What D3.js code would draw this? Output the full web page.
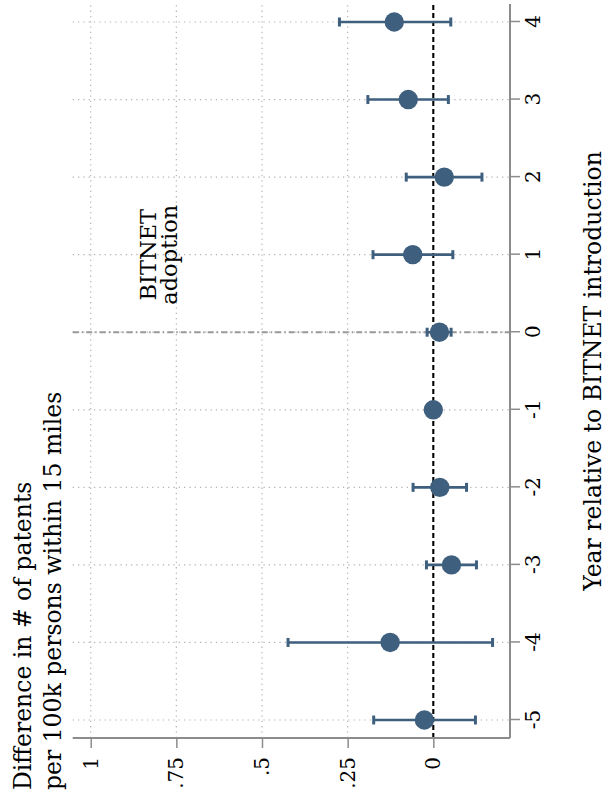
<!DOCTYPE html>
<html>
<head>
<meta charset="utf-8">
<script src="https://cdn.jsdelivr.net/npm/d3@7"></script>
<style>
  html, body { margin: 0; padding: 0; background: #fff; }
  svg { display: block; }
  text { font-family: "DejaVu Serif", serif; fill: #000; }
</style>
</head>
<body>
<div id="chart"></div>
<script>
// Event-study estimates: effect of BITNET adoption on local patenting
const years    = [-5, -4, -3, -2, -1, 0, 1, 2, 3, 4];
const estimates = [0.026, 0.126, -0.053, -0.019, 0, -0.018, 0.060, -0.032, 0.073, 0.114];
const ciLow    = [-0.123, -0.173, -0.126, -0.097, null, -0.052, -0.057, -0.142, -0.044, -0.051];
const ciHigh   = [0.174, 0.424, 0.020, 0.059, null, 0.018, 0.176, 0.079, 0.191, 0.274];
const valueTicks  = [0, 0.25, 0.5, 0.75, 1];
const valueLabels = ["0", ".25", ".5", ".75", "1"];
const yearLabels  = ["-5", "-4", "-3", "-2", "-1", "0", "1", "2", "3", "4"];
const eventYear = 0;

const W = 616, H = 804;
// The chart is laid out in landscape (H wide, W tall) and turned a quarter turn.
const plot = { left: 66, right: 800, top: 72.7, bottom: 510 };
const markColor = "#3e5f7e";
const axisColor = "#8c8c8c";
const gridColor = "#b4b4b4";

const svg = d3.select("#chart").append("svg")
  .attr("width", W).attr("height", H);

const g = svg.append("g")
  .attr("transform", `translate(0,${H}) rotate(-90)`);

const x = d3.scaleLinear().domain([-5, 4]).range([84, 782]);
const y = d3.scaleLinear().domain([0, 1]).range([433.3, 90.7]);

// Gridlines
g.append("g").selectAll("line").data(valueTicks.filter(v => v !== 0)).join("line")
  .attr("x1", plot.left).attr("x2", plot.right)
  .attr("y1", d => y(d)).attr("y2", d => y(d))
  .attr("stroke", gridColor).attr("stroke-width", 1.2)
  .attr("stroke-dasharray", "1.3,4");
g.append("g").selectAll("line").data(years).join("line")
  .attr("x1", d => x(d)).attr("x2", d => x(d))
  .attr("y1", plot.top).attr("y2", plot.bottom)
  .attr("stroke", gridColor).attr("stroke-width", 1.2)
  .attr("stroke-dasharray", "1.3,4");

// Reference lines: adoption year and zero effect
g.append("line")
  .attr("x1", x(eventYear)).attr("x2", x(eventYear))
  .attr("y1", plot.top).attr("y2", plot.bottom)
  .attr("stroke", "#999").attr("stroke-width", 1.9)
  .attr("stroke-dasharray", "6,3,1.5,3");
g.append("line")
  .attr("x1", plot.left).attr("x2", plot.right)
  .attr("y1", y(0)).attr("y2", y(0))
  .attr("stroke", "#000").attr("stroke-width", 2.1)
  .attr("stroke-dasharray", "5,3");

// Axes
const xAxis = d3.axisBottom(x).tickValues(years)
  .tickFormat((d, i) => yearLabels[i]).tickSize(10).tickPadding(6);
const gx = g.append("g").attr("transform", `translate(0,${plot.bottom})`).call(xAxis);
gx.select(".domain").attr("d", `M${plot.left},0H${plot.right}`);

const yAxis = d3.axisLeft(y).tickValues(valueTicks)
  .tickFormat((d, i) => valueLabels[i]).tickSize(10).tickPadding(9);
const gy = g.append("g").attr("transform", `translate(${plot.left},0)`).call(yAxis);
gy.select(".domain").attr("d", `M0,${plot.top}V${plot.bottom}`);

[gx, gy].forEach(a => {
  a.select(".domain").attr("stroke", axisColor).attr("stroke-width", 2);
  a.selectAll(".tick line").attr("stroke", axisColor).attr("stroke-width", 1.5);
  a.selectAll(".tick text").attr("font-family", "DejaVu Serif").attr("font-size", 20).attr("fill", "#000");
});

// Confidence intervals
const rows = years.map((yr, i) => ({ yr, est: estimates[i], lo: ciLow[i], hi: ciHigh[i] }));
const ci = rows.filter(d => d.lo !== null);
g.append("g").selectAll("line").data(ci).join("line")
  .attr("x1", d => x(d.yr)).attr("x2", d => x(d.yr))
  .attr("y1", d => y(d.lo)).attr("y2", d => y(d.hi))
  .attr("stroke", markColor).attr("stroke-width", 2.6);
const caps = ci.flatMap(d => [{ yr: d.yr, v: d.lo }, { yr: d.yr, v: d.hi }]);
g.append("g").selectAll("line").data(caps).join("line")
  .attr("x1", d => x(d.yr) - 4.5).attr("x2", d => x(d.yr) + 4.5)
  .attr("y1", d => y(d.v)).attr("y2", d => y(d.v))
  .attr("stroke", markColor).attr("stroke-width", 3);

// Point estimates
g.append("g").selectAll("circle").data(rows).join("circle")
  .attr("cx", d => x(d.yr)).attr("cy", d => y(d.est))
  .attr("r", 9.7).attr("fill", markColor);

// Titles
g.append("text")
  .attr("x", (plot.left + plot.right) / 2).attr("y", 601)
  .attr("text-anchor", "middle").attr("font-size", 23.5)
  .text("Year relative to BITNET introduction");

const yTitle = g.append("text").attr("font-size", 23.5);
yTitle.append("tspan").attr("x", 14).attr("y", 31).text("Difference in # of patents");
yTitle.append("tspan").attr("x", 14).attr("y", 61).text("per 100k persons within 15 miles");

const note = g.append("text").attr("font-size", 22.5).attr("text-anchor", "middle");
note.append("tspan").attr("x", x(1)).attr("y", 156).text("BITNET");
note.append("tspan").attr("x", x(1)).attr("y", 177).text("adoption");
</script>
</body>
</html>
